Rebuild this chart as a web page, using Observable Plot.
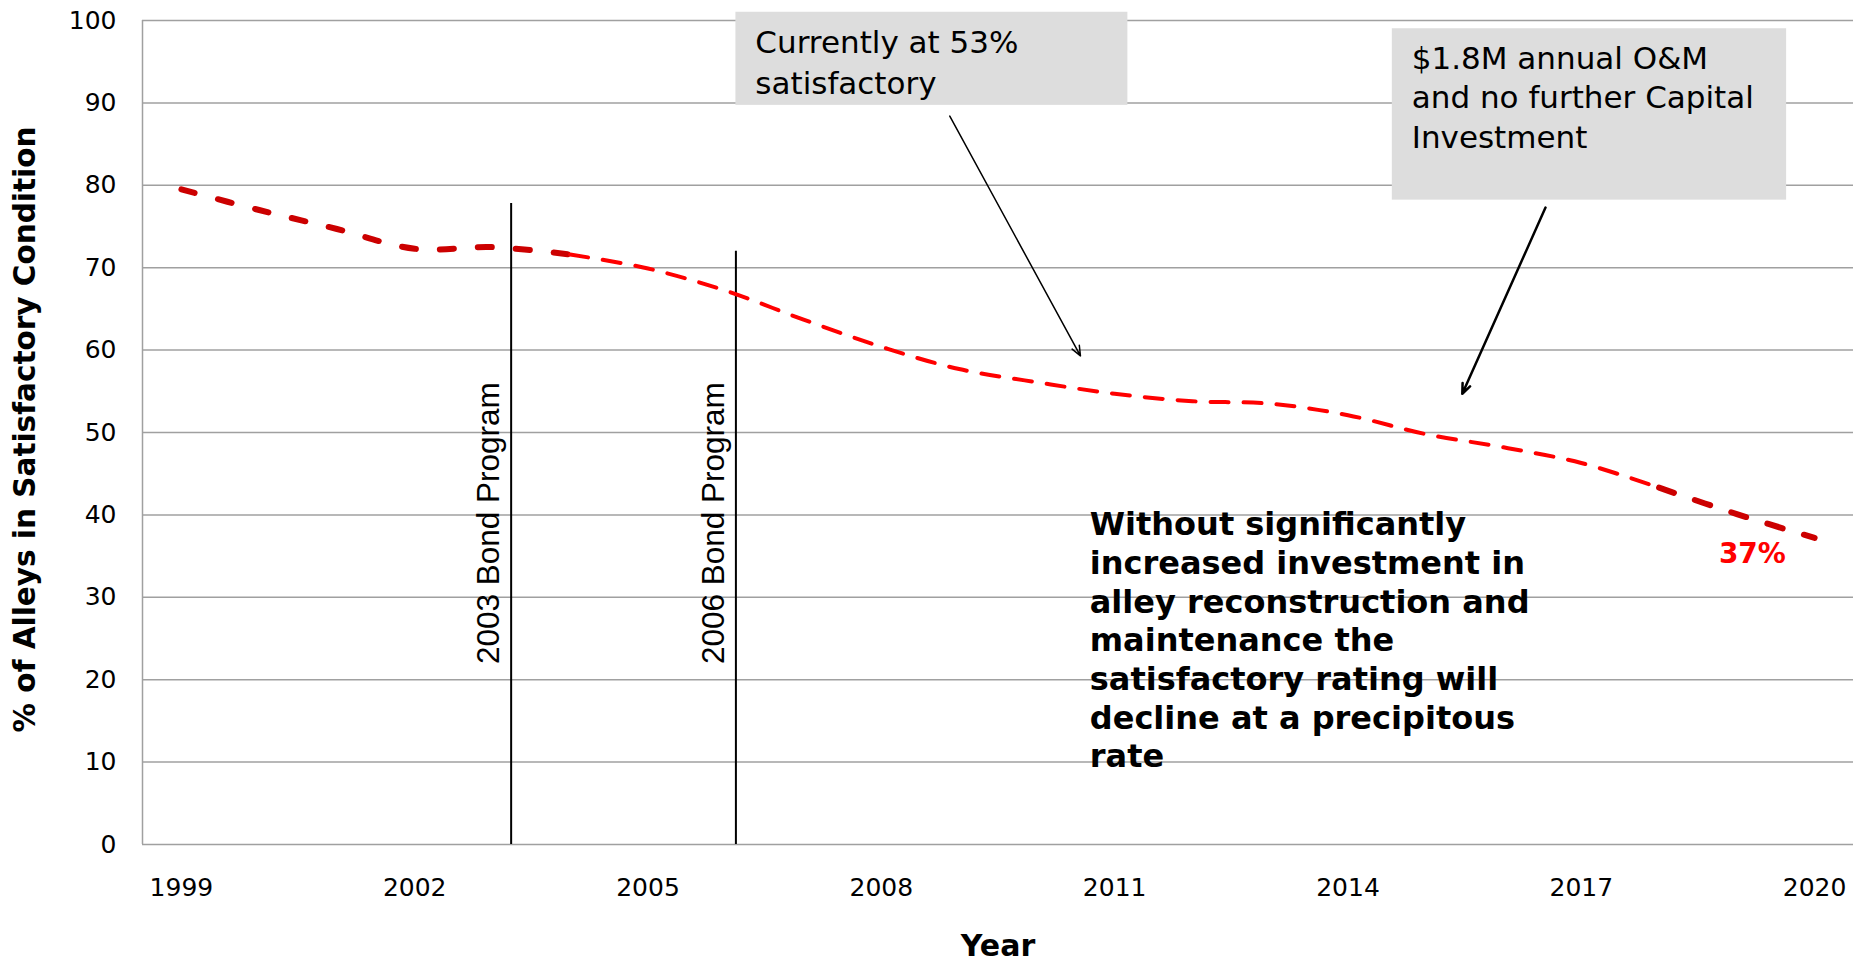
<!DOCTYPE html>
<html>
<head>
<meta charset="utf-8">
<script src="https://cdn.jsdelivr.net/npm/d3@7"></script>
<script src="https://cdn.jsdelivr.net/npm/@observablehq/plot@0.6"></script>
<style>
  html, body { margin: 0; padding: 0; background: #fff; overflow: hidden; }
  #chart svg { display: block; }
</style>
</head>
<body>
<div id="chart"></div>
<script>
// ---- data ----
const years = [1999, 2000, 2001, 2002, 2003, 2004, 2005, 2006, 2007, 2008, 2009,
               2010, 2011, 2012, 2013, 2014, 2015, 2016, 2017, 2018, 2019, 2020];
const satisfactory = [79.5, 77.0, 74.7, 72.3, 72.5, 71.6, 69.9, 67.2, 63.7, 60.4, 57.7,
                      56.1, 54.7, 53.8, 53.5, 52.1, 49.8, 48.2, 46.3, 43.3, 40.1, 37.2];
const xTicks = [1999, 2002, 2005, 2008, 2011, 2014, 2017, 2020];
const yTicks = [0, 10, 20, 30, 40, 50, 60, 70, 80, 90, 100];

// vertical program markers
const bondYears = [2003.24, 2006.13];
const bondTops = [77.8, 72.0];
const bondLabels = ["2003 Bond Program", "2006 Bond Program"];

// annotation callouts (data coordinates)
const boxX1 = [2006.13, 2014.57];
const boxX2 = [2011.17, 2019.64];
const boxY1 = [89.7, 78.2];
const boxY2 = [101.0, 99.0];
const boxTextX = [2006.38, 2014.82];
const boxTextY = [95.2, 90.9];
const boxLineHeight = [1.34, 1.28];
const boxTexts = ["Currently at 53%\nsatisfactory", "$1.8M annual O&M\nand no further Capital\nInvestment"];
const arrowFromX = [2008.88, 2016.54];
const arrowFromY = [88.4, 77.3];
const arrowToX = [2010.56, 2015.47];
const arrowToY = [59.3, 54.7];
const noteText = "Without significantly\nincreased investment in\nalley reconstruction and\nmaintenance the\nsatisfactory rating will\ndecline at a precipitous\nrate";
const endLabel = "37%";

// ---- build tables ----
const series = years.map((y, i) => ({year: y, value: satisfactory[i]}));
const segA = series.slice(0, 6);    // 1999-2004
const segB = series.slice(5, 20);   // 2004-2018
const segC = series.slice(19);      // 2018-2020
const bonds = bondYears.map((x, i) => ({x, top: bondTops[i], label: bondLabels[i]}));
const boxes = boxX1.map((x1, i) => ({x1, x2: boxX2[i], y1: boxY1[i], y2: boxY2[i], tx: boxTextX[i], ty: boxTextY[i], text: boxTexts[i]}));
const arrows = arrowFromX.map((x1, i) => ({x1, y1: arrowFromY[i], x2: arrowToX[i], y2: arrowToY[i], w: i === 0 ? 1.5 : 2.5}));

const FONT = "'DejaVu Sans', Verdana, sans-serif";

const chart = Plot.plot({
  width: 1860,
  height: 960,
  marginLeft: 142,
  marginRight: 7,
  marginTop: 20,
  marginBottom: 116,
  style: {fontFamily: FONT, background: "#fff", color: "#000", overflow: "visible"},
  x: {domain: [1998.5, 2020.5], ticks: xTicks},
  y: {domain: [0, 100], ticks: yTicks},
  marks: [
    Plot.gridY(yTicks, {stroke: "#a0a0a0", strokeOpacity: 1, strokeWidth: 1.5}),
    Plot.ruleX([1998.5], {y1: 0, y2: 100, stroke: "#a0a0a0", strokeWidth: 1.5}),
    Plot.axisY(yTicks, {tickSize: 0, tickPadding: 26, fontSize: 25, label: null, tickFormat: d => String(d)}),
    Plot.axisX(xTicks, {tickSize: 0, tickPadding: 34, fontSize: 25, label: null, tickFormat: d => String(d)}),
    Plot.text(["% of Alleys in Satisfactory Condition"], {frameAnchor: "left", textAnchor: "middle", rotate: -90, dx: -117, dy: -3, fontSize: 29.5, fontWeight: "bold"}),
    Plot.text(["Year"], {frameAnchor: "bottom", textAnchor: "middle", dy: 111, fontSize: 30, fontWeight: "bold"}),
    // callout boxes
    Plot.rect(boxes, {x1: "x1", x2: "x2", y1: "y1", y2: "y2", fill: "#dddddd"}),
    Plot.text(boxes.slice(0, 1), {x: "tx", y: "ty", text: "text", textAnchor: "start", lineAnchor: "middle", fontSize: 31, lineHeight: boxLineHeight[0], fill: "#000"}),
    Plot.text(boxes.slice(1), {x: "tx", y: "ty", text: "text", textAnchor: "start", lineAnchor: "middle", fontSize: 31, lineHeight: boxLineHeight[1], fill: "#000"}),
    // bond program markers
    Plot.ruleX(bonds, {x: "x", y1: 0, y2: "top", stroke: "#000", strokeWidth: 2}),
    Plot.text(bonds, {x: "x", y: 39, text: "label", rotate: -90, dx: -22, fontSize: 31.5, fontFamily: "'Liberation Sans', Arial, sans-serif", fill: "#000"}),
    // series
    Plot.line(segA, {x: "year", y: "value", curve: "catmull-rom", stroke: "#cc0000", strokeWidth: 6, strokeDasharray: "14,24", strokeLinecap: "round"}),
    Plot.line(segB, {x: "year", y: "value", curve: "catmull-rom", stroke: "#ff0000", strokeWidth: 4, strokeDasharray: "18,15", strokeLinecap: "round"}),
    Plot.line(segC, {x: "year", y: "value", curve: "catmull-rom", stroke: "#cc0000", strokeWidth: 6, strokeDasharray: "16,22", strokeLinecap: "round"}),
    // arrows
    Plot.arrow(arrows, {x1: "x1", y1: "y1", x2: "x2", y2: "y2", stroke: "#000", strokeWidth: "w", headLength: 16, headAngle: 45}),
    // note
    Plot.text([noteText], {x: 2010.68, y: 24.95, textAnchor: "start", lineAnchor: "middle", fontSize: 32, fontWeight: "bold", lineHeight: 1.21, fill: "#000"}),
    Plot.text([endLabel], {x: 2019.2, y: 35.3, fontSize: 28, fontWeight: "bold", fill: "#ff0000"})
  ]
});
document.getElementById("chart").appendChild(chart);
</script>
</body>
</html>
